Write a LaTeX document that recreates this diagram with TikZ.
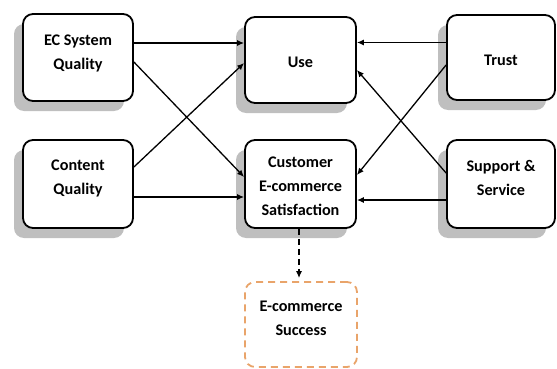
\documentclass[tikz,border=0pt]{standalone}
\usepackage{fontspec}
\setmainfont{Carlito}
\usetikzlibrary{shadows,arrows.meta,calc}
\definecolor{succ}{HTML}{E9A46A}
\tikzset{
  box/.style={draw=black, line width=1.8pt, rounded corners=10pt, fill=white,
    drop shadow={shadow xshift=-9pt, shadow yshift=-10pt, fill=black!25, opacity=1},
    inner sep=0pt},
  sbox/.style={draw=succ, line width=1.8pt, rounded corners=10pt, fill=white,
    dash pattern=on 7pt off 5pt, inner sep=0pt},
  txt/.style={align=center, font=\bfseries\fontsize{16.2}{24}\selectfont, inner sep=0pt},
  arr/.style={line width=1.3pt, -{Latex[length=7pt,width=6pt]}},
  darr/.style={line width=1.3pt, dash pattern=on 6pt off 4pt, -{Latex[length=7pt,width=6pt]}}
}
\begin{document}
\begin{tikzpicture}[x=1pt,y=-1pt]
\useasboundingbox (0,0) rectangle (557,369);
% boxes
\node[box, minimum width=110pt, minimum height=87pt] (ec) at (78,57.5) {};
\node[box, minimum width=110pt, minimum height=88pt] (cq) at (78,184) {};
\node[box, minimum width=111pt, minimum height=86pt] (use) at (300.5,60) {};
\node[box, minimum width=111pt, minimum height=88pt] (cs) at (300.5,184) {};
\node[box, minimum width=108pt, minimum height=85pt] (tr) at (501,57.5) {};
\node[box, minimum width=108pt, minimum height=88pt] (ss) at (501,184) {};
\node[sbox, minimum width=112pt, minimum height=85pt] (suc) at (301,324.5) {};
% texts
\node[txt] (ecT) at ([yshift=4.5pt]ec.center) {EC System\\Quality};
\node[txt] (cqT) at ([yshift=6pt]cq.center) {Content\\Quality};
\node[txt] (useT) at ([yshift=-2.5pt]use.center) {Use};
\node[txt] (csT) at ([yshift=-2pt]cs.center) {Customer\\E-commerce\\Satisfaction};
\node[txt] (trT) at ([yshift=-3pt]tr.center) {Trust};
\node[txt] (ssT) at ([yshift=6pt]ss.center) {Support \&\\Service};
\node[txt] (sucT) at ([yshift=6pt]suc.center) {E-commerce\\Success};
% arrows
\draw[arr] ([yshift=14.5pt]ec.east) -- ([yshift=17pt]use.west);
\draw[arr] ([yshift=-4.5pt]ec.east) -- ([yshift=7pt]cs.west);
\draw[arr] ([yshift=17pt]cq.east) -- ([yshift=-3pt]use.west);
\draw[arr] ([yshift=-13pt]cq.east) -- ([yshift=-13pt]cs.west);
\draw[arr] ([yshift=15pt]tr.west) -- ([yshift=17.5pt]use.east);
\draw[arr] ([yshift=-7.5pt]tr.west) -- ([yshift=9pt]cs.east);
\draw[arr] ([yshift=11pt]ss.west) -- ([yshift=-10pt]use.east);
\draw[arr] ([yshift=-16pt]ss.west) -- ([yshift=-16pt]cs.east);
\draw[darr] ([xshift=-1.5pt]cs.south) -- ([xshift=-2pt,yshift=3pt]suc.north);
\end{tikzpicture}
\end{document}
